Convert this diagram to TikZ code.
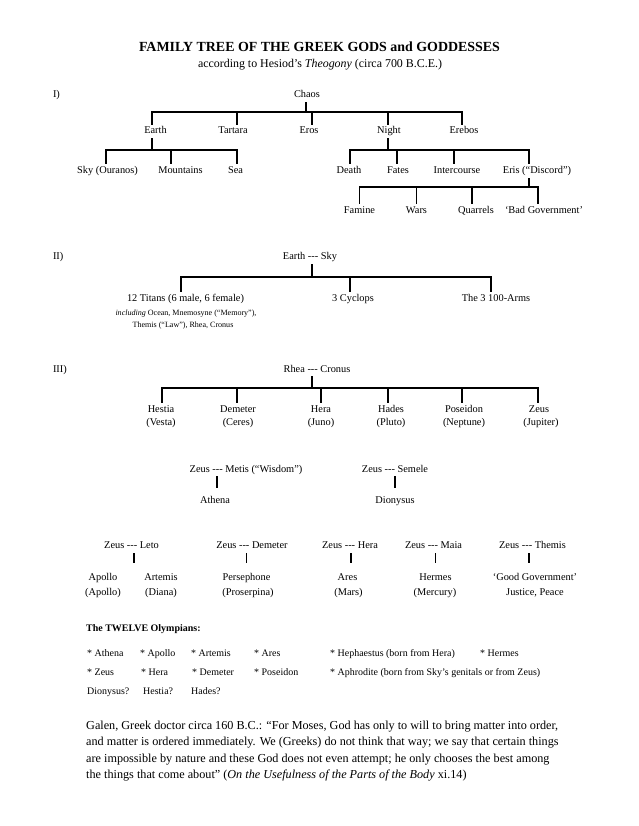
\documentclass[tikz,border=0pt]{standalone}
\usepackage{fontspec}
\setmainfont{Liberation Serif}
\usetikzlibrary{calc}
\newlength\mylen
\newcommand\fitsize[3]{\settowidth\mylen{\normalfont\fontsize{10}{12}\selectfont #2}\pgfmathsetmacro#1{10*#3/\mylen}\global\let#1#1}
\newcommand\tdash{{-}{-}{-}}
% drop from a bar down to a child
\newcommand\drop[3]{\coordinate (d#1) at ([xshift=#3pt]#1.north); \draw[ln] (d#1 |- #2) -- (d#1);}
% stem from a parent down to a bar
\newcommand\stem[3]{\coordinate (s#1) at ([xshift=#3pt]#1.south); \draw[ln] (s#1) -- (s#1 |- #2);}
% short stem from a union towards its child
\newcommand\link[4]{\coordinate (l#2) at ([xshift=#3pt]#2.north); \draw[ln, shorten >=#4pt] (l#2 |- #1.south) -- (l#2);}
\AtBeginDocument{%
\fitsize\tsize{\bfseries FAMILY TREE OF THE GREEK GODS and GODDESSES}{361}%
\fitsize\ssize{according to Hesiod’s \textit{Theogony} (circa 700 B.C.E.)}{244}%
\fitsize\lsize{12 Titans (6 male, 6 female)}{117}%
\fitsize\isize{\textit{including} Ocean, Mnemosyne (“Memory”),}{141}%
\fitsize\osize{* Aphrodite (born from Sky’s genitals or from Zeus)}{210}%
\fitsize\gsize{Galen, Greek doctor circa 160 B.C.: “For Moses, God has only to will to bring matter into order,}{472}%
}
\begin{document}
\begin{tikzpicture}[x=1pt,y=-1pt,
  ln/.style={line width=1.1pt, line cap=rect, black},
  lbl/.style={font=\fontsize{\lsize}{12}\selectfont, inner sep=0pt, outer sep=3pt, text height=7pt, text depth=2pt, anchor=base},
  lft/.style={lbl, anchor=base west},
  small/.style={font=\fontsize{\isize}{10}\selectfont, inner sep=0pt, anchor=base},
  olym/.style={font=\fontsize{\osize}{12}\selectfont, inner sep=0pt, anchor=base west},
  gal/.style={font=\fontsize{\gsize}{14}\selectfont, inner sep=0pt, anchor=base west}]
\fill[white] (0,0) rectangle (638,826);
\useasboundingbox (0,0) rectangle (638,826);

% Title
\node[inner sep=0pt, anchor=base, font=\fontsize{\tsize}{16}\selectfont\bfseries] (title) at (319.5,52) {FAMILY TREE OF THE GREEK GODS and GODDESSES};
\node[inner sep=0pt, anchor=base, font=\fontsize{\ssize}{14}\selectfont] (subtitle) at (320,67.5) {according to Hesiod’s \textit{Theogony} (circa 700 B.C.E.)};

% ---------- I ----------
\node[lft] (s1) at (50,98) {I)};
\node[lbl] (chaos) at (307,98) {Chaos};
\coordinate (b1) at (0,112);
\node[lbl] (earth) at (155.5,134) {Earth};
\node[lbl] (tartara) at (233,134) {Tartara};
\node[lbl] (eros) at (309,134) {Eros};
\node[lbl] (night) at (389,134) {Night};
\node[lbl] (erebos) at (464,134) {Erebos};
\stem{chaos}{b1}{-1}
\drop{earth}{b1}{-3.5}
\drop{tartara}{b1}{4}
\drop{eros}{b1}{3}
\drop{night}{b1}{-1}
\drop{erebos}{b1}{-2}
\draw[ln] (dearth |- b1) -- (derebos |- b1);

\coordinate (b2) at (0,150);
\node[lbl] (sky) at (107.5,173.5) {Sky (Ouranos)};
\node[lbl] (mount) at (180.5,173.5) {Mountains};
\node[lbl] (sea) at (235.5,173.5) {Sea};
\node[lbl] (death) at (349,173.5) {Death};
\node[lbl] (fates) at (398,173.5) {Fates};
\node[lbl] (inter) at (457,173.5) {Intercourse};
\node[lbl] (eris) at (537,173.5) {Eris (“Discord”)};
\stem{earth}{b2}{-3.5}
\drop{sky}{b2}{-1.5}
\drop{mount}{b2}{-9.5}
\drop{sea}{b2}{1.5}
\draw[ln] (dsky |- b2) -- (dsea |- b2);
\stem{night}{b2}{-1}
\drop{death}{b2}{1}
\drop{fates}{b2}{-1}
\drop{inter}{b2}{-3}
\drop{eris}{b2}{-8}
\draw[ln] (ddeath |- b2) -- (deris |- b2);

\coordinate (b3) at (0,187);
\node[lbl] (famine) at (359.5,213.5) {Famine};
\node[lbl] (wars) at (416.5,213.5) {Wars};
\node[lbl] (quarrels) at (476,213.5) {Quarrels};
\node[lbl] (badgov) at (544,213.5) {‘Bad Government’};
\stem{eris}{b3}{-8}
\drop{famine}{b3}{0}
\drop{wars}{b3}{0}
\drop{quarrels}{b3}{-4}
\drop{badgov}{b3}{-6}
\draw[ln] (dfamine |- b3) -- (dbadgov |- b3);

% ---------- II ----------
\node[lft] (s2) at (50,259.5) {II)};
\node[lbl] (earthsky) at (310,259.5) {Earth \tdash{} Sky};
\coordinate (b4) at (0,277);
\node[lbl] (titans) at (185.5,301) {12 Titans (6 male, 6 female)};
\node[lbl] (cyclops) at (353,301) {3 Cyclops};
\node[lbl] (arms) at (496,301) {The 3 100-Arms};
\stem{earthsky}{b4}{2}
\drop{titans}{b4}{-4.5}
\drop{cyclops}{b4}{-3}
\drop{arms}{b4}{-5}
\draw[ln] (dtitans |- b4) -- (darms |- b4);
\node[small] (incl1) at (186,315) {\textit{including} Ocean, Mnemosyne (“Memory”),};
\node[small] (incl2) at (183,327) {Themis (“Law”), Rhea, Cronus};

% ---------- III ----------
\node[lft] (s3) at (50,372) {III)};
\node[lbl] (rhea) at (317,372) {Rhea \tdash{} Cronus};
\coordinate (b5) at (0,388);
\node[lbl] (hestia) at (161,412) {Hestia};
\node[lbl] (demeter) at (238,412) {Demeter};
\node[lbl] (hera) at (321,412) {Hera};
\node[lbl] (hades) at (391,412) {Hades};
\node[lbl] (poseidon) at (464,412) {Poseidon};
\node[lbl] (zeus) at (539,412) {Zeus};
\stem{rhea}{b5}{-5}
\drop{hestia}{b5}{1}
\drop{demeter}{b5}{-1}
\drop{hera}{b5}{0}
\drop{hades}{b5}{-3}
\drop{poseidon}{b5}{-2}
\drop{zeus}{b5}{-1}
\draw[ln] (dhestia |- b5) -- (dzeus |- b5);
\node[lbl] (vesta) at (161,425.5) {(Vesta)};
\node[lbl] (ceres) at (238,425.5) {(Ceres)};
\node[lbl] (juno) at (321,425.5) {(Juno)};
\node[lbl] (pluto) at (391,425.5) {(Pluto)};
\node[lbl] (neptune) at (464,425.5) {(Neptune)};
\node[lbl] (jupiter) at (541,425.5) {(Jupiter)};

% ---------- Zeus' unions ----------
\node[lbl] (metis) at (246,472) {Zeus \tdash{} Metis (“Wisdom”)};
\node[lbl] (semele) at (395,472) {Zeus \tdash{} Semele};
\node[lbl] (athena) at (215,503.5) {Athena};
\node[lbl] (dionysus) at (395,503.5) {Dionysus};
\link{metis}{athena}{2}{6.5}
\link{semele}{dionysus}{0}{6.5}

\node[lbl] (leto) at (131.5,548.5) {Zeus \tdash{} Leto};
\node[lbl] (demz) at (252,548.5) {Zeus \tdash{} Demeter};
\node[lbl] (heraz) at (350,548.5) {Zeus \tdash{} Hera};
\node[lbl] (maia) at (433.5,548.5) {Zeus \tdash{} Maia};
\node[lbl] (themis) at (532.5,548.5) {Zeus \tdash{} Themis};
\node[lbl] (apollo) at (103,580) {Apollo};
\node[lbl] (artemis) at (161,580) {Artemis};
\node[lbl] (perse) at (246.5,580) {Persephone};
\node[lbl] (ares) at (347.5,580) {Ares};
\node[lbl] (hermes) at (435.5,580) {Hermes};
\node[lbl] (goodgov) at (535,580) {‘Good Government’};
\node[lbl] (apollo2) at (103,595) {(Apollo)};
\node[lbl] (diana) at (161,595) {(Diana)};
\node[lbl] (proserpina) at (248,595) {(Proserpina)};
\node[lbl] (mars) at (348.5,595) {(Mars)};
\node[lbl] (mercury) at (435,595) {(Mercury)};
\node[lbl] (justice) at (535,595) {Justice, Peace};
\coordinate (lleto) at ($(apollo.north)!0.5!(artemis.north)+(2,0)$);
\draw[ln, shorten >=8pt] (lleto |- leto.south) -- (lleto);
\link{demz}{perse}{0}{8}
\link{heraz}{ares}{3.5}{8}
\link{maia}{hermes}{0}{8}
\link{themis}{goodgov}{-6}{8}

% ---------- Olympians ----------
\node[olym, font=\fontsize{\osize}{12}\selectfont\bfseries] (olyt) at (86,631) {The TWELVE Olympians:};
\node[olym] (o1) at (87,656) {* Athena};
\node[olym] (o2) at (140,656) {* Apollo};
\node[olym] (o3) at (191,656) {* Artemis};
\node[olym] (o4) at (254,656) {* Ares};
\node[olym] (o5) at (330,656) {* Hephaestus (born from Hera)};
\node[olym] (o6) at (480,656) {* Hermes};
\node[olym] (o7) at (87,675) {* Zeus};
\node[olym] (o8) at (141,675) {* Hera};
\node[olym] (o9) at (192,675) {* Demeter};
\node[olym] (o10) at (254,675) {* Poseidon};
\node[olym] (o11) at (330,675) {* Aphrodite (born from Sky’s genitals or from Zeus)};
\node[olym] (o12) at (87,694) {Dionysus?};
\node[olym] (o13) at (143,694) {Hestia?};
\node[olym] (o14) at (191,694) {Hades?};

% ---------- Galen ----------
\node[gal] (g1) at (86,729) {Galen, Greek doctor circa 160 B.C.: “For Moses, God has only to will to bring matter into order,};
\node[gal] (g2) at (86,745.5) {and matter is ordered immediately. We (Greeks) do not think that way; we say that certain things};
\node[gal] (g3) at (86,762) {are impossible by nature and these God does not even attempt; he only chooses the best among};
\node[gal] (g4) at (86,778.5) {the things that come about” (\textit{On the Usefulness of the Parts of the Body} xi.14)};
\end{tikzpicture}
\end{document}
